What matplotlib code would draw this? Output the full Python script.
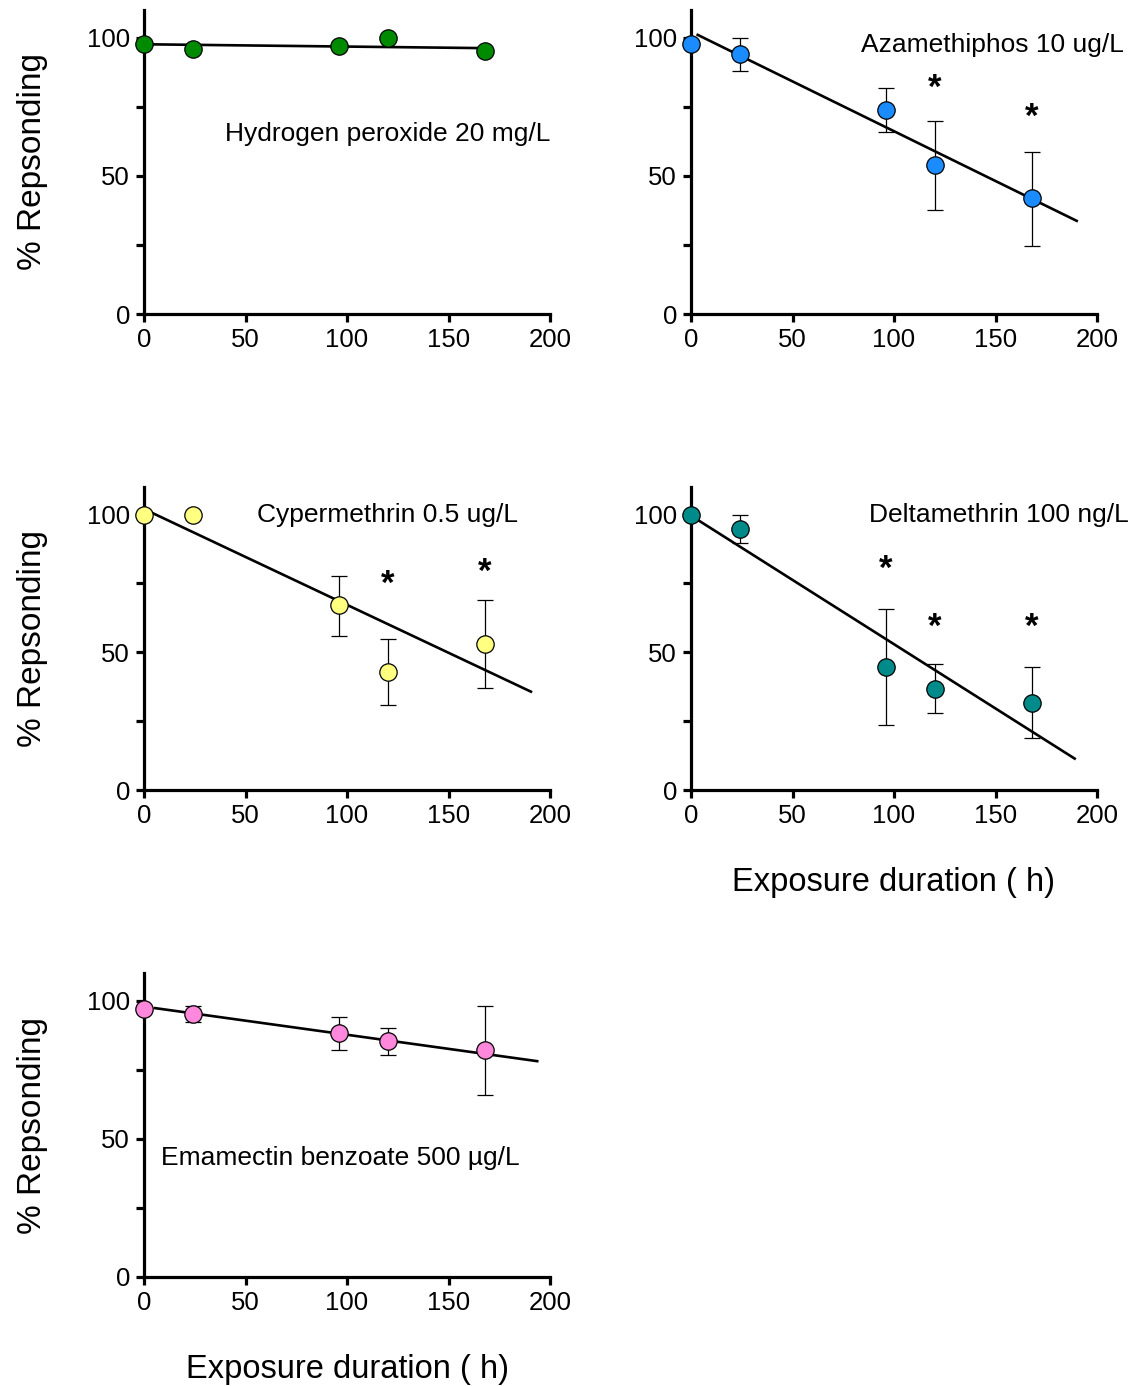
import numpy as np
import matplotlib
matplotlib.use("Agg")
import matplotlib.pyplot as plt

plt.rcParams['font.family'] = ['Liberation Sans', 'DejaVu Sans']

# sampling times (h)
t = [0, 24, 96, 120, 168]

# Hydrogen peroxide 20 mg/L
h2o2_y = [97.8, 96.0, 97.1, 100.0, 95.0]
h2o2_lo = [0, 0, 0, 0, 0]
h2o2_hi = [0, 0, 0, 0, 0]
h2o2_fit_x = [0, 168]
h2o2_fit_y = [97.6, 96.2]
h2o2_stars = []

# Azamethiphos 10 ug/L
aza_y = [97.8, 93.9, 73.9, 53.8, 41.9]
aza_lo = [0, 6.1, 8.0, 16.1, 17.2]
aza_hi = [0, 5.8, 7.8, 16.0, 16.8]
aza_fit_x = [3.3, 190]
aza_fit_y = [101.0, 33.7]
aza_stars = [(120, 81.6), (168, 71.0)]

# Cypermethrin 0.5 ug/L
cyp_y = [100.0, 100.0, 67.0, 42.9, 52.9]
cyp_lo = [0, 0, 11.1, 12.1, 16.0]
cyp_hi = [0, 0, 10.8, 11.9, 16.0]
cyp_fit_x = [0, 190.6]
cyp_fit_y = [102.0, 35.7]
cyp_stars = [(120, 74.8), (168, 79.0)]

# Deltamethrin 100 ng/L
del_y = [100.0, 94.6, 44.8, 36.8, 31.6]
del_lo = [0, 4.9, 21.1, 9.0, 12.8]
del_hi = [0, 5.4, 20.9, 8.8, 12.9]
del_fit_x = [0, 189]
del_fit_y = [99.6, 11.4]
del_stars = [(96, 80.2), (120, 59.2), (168, 59.2)]

# Emamectin benzoate 500 ug/L
ema_y = [97.1, 95.1, 88.2, 85.3, 82.2]
ema_lo = [0, 2.9, 6.0, 5.1, 16.2]
ema_hi = [0, 2.9, 5.9, 4.7, 16.0]
ema_fit_x = [5.4, 193.7]
ema_fit_y = [97.3, 78.1]
ema_stars = []

W, H = 1136, 1386
fig = plt.figure(figsize=(W / 100, H / 100), dpi=100)

def axbox(left, top, bottom):
    # pixel positions -> figure fraction
    return [left / W, (H - bottom) / H, 406 / W, (bottom - top) / H]

panels = [
    (axbox(144, 10, 314), h2o2_y, h2o2_lo, h2o2_hi, h2o2_fit_x, h2o2_fit_y, h2o2_stars,
     '#008a00', 'Hydrogen peroxide 20 mg/L', (120, 65.3), 'center'),
    (axbox(691, 10, 314), aza_y, aza_lo, aza_hi, aza_fit_x, aza_fit_y, aza_stars,
     '#1a8cff', 'Azamethiphos 10 ug/L', (213, 97.5), 'right'),
    (axbox(144, 487, 790), cyp_y, cyp_lo, cyp_hi, cyp_fit_x, cyp_fit_y, cyp_stars,
     '#ffff80', 'Cypermethrin 0.5 ug/L', (184, 100), 'right'),
    (axbox(691, 487, 790), del_y, del_lo, del_hi, del_fit_x, del_fit_y, del_stars,
     '#008b8b', 'Deltamethrin 100 ng/L', (215.5, 100), 'right'),
    (axbox(144, 973, 1277), ema_y, ema_lo, ema_hi, ema_fit_x, ema_fit_y, ema_stars,
     '#ff88dd', 'Emamectin benzoate 500 \u00b5g/L', (8.5, 43), 'left'),
]

axes = []
for box, y, lo, hi, fx, fy, stars, col, label, lpos, ha in panels:
    ax = fig.add_axes(box)
    axes.append(ax)
    ax.plot(fx, fy, color='black', lw=1.9, zorder=2, clip_on=False)
    ax.errorbar(t, y, yerr=[lo, hi], fmt='none', ecolor='black', elinewidth=0.9,
                capsize=6, capthick=0.9, zorder=3, clip_on=False)
    ax.plot(t, y, 'o', ms=12.5, mfc=col, mec='black', mew=0.9, zorder=4, clip_on=False)
    for sx, sy in stars:
        ax.text(sx, sy, '*', ha='center', va='center', fontsize=25, fontweight='bold')
    ax.text(lpos[0], lpos[1], label, ha=ha, va='center', fontsize=19)

    ax.set_xlim(0, 200)
    ax.set_ylim(0, 110)
    ax.set_xticks([0, 50, 100, 150, 200])
    ax.set_yticks([0, 50, 100])
    ax.set_yticks([25, 75], minor=True)
    for s in ['top', 'right']:
        ax.spines[s].set_visible(False)
    for s in ['left', 'bottom']:
        ax.spines[s].set_linewidth(2.3)
    ax.spines['left'].set_bounds(0, 110)
    ax.tick_params(axis='both', which='major', width=2.3, length=6, labelsize=18.5, pad=4)
    ax.tick_params(axis='y', which='minor', width=2.3, length=6)
    ax.tick_params(axis='x', which='minor', length=0)

for i in [0, 2, 4]:
    axes[i].set_ylabel('% Repsonding', fontsize=24, labelpad=28)
for i in [3, 4]:
    axes[i].set_xlabel('Exposure duration ( h)', fontsize=23.5, labelpad=28)

fig.savefig('out.png', dpi=100)
